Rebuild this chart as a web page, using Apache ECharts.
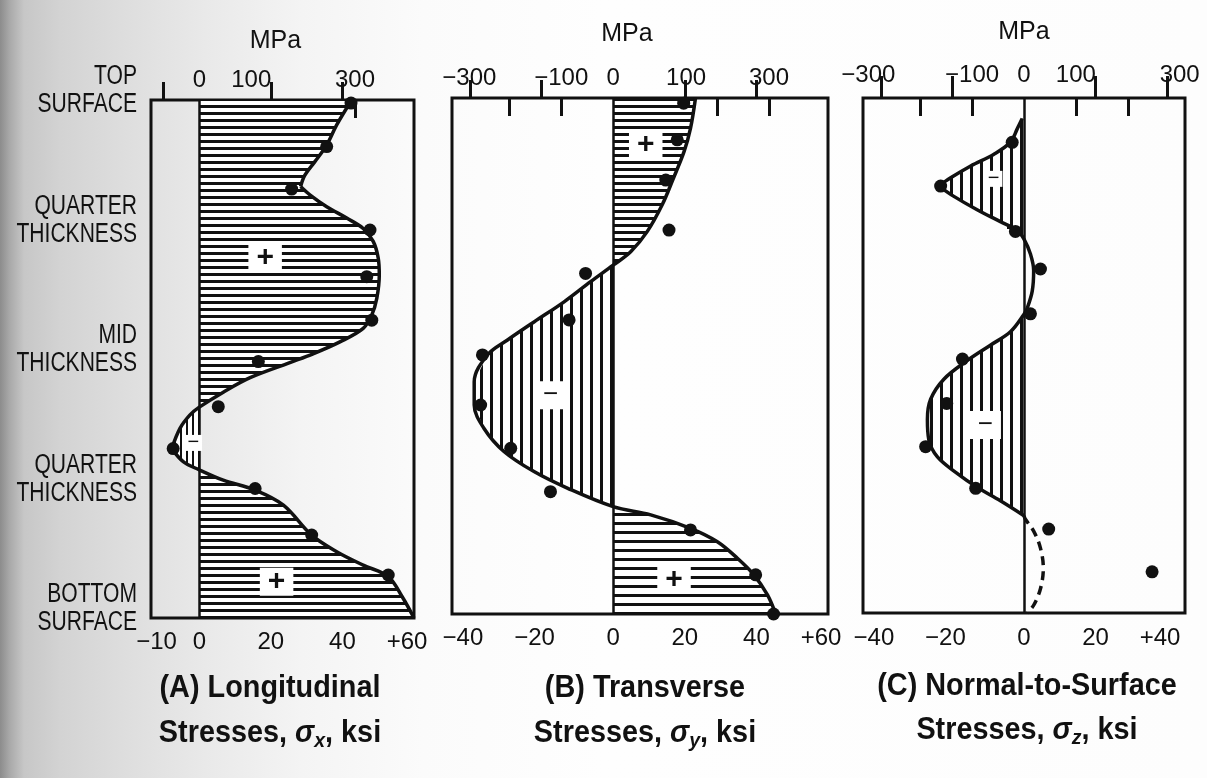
<!DOCTYPE html>
<html>
<head>
<meta charset="utf-8">
<script src="https://cdn.jsdelivr.net/npm/echarts@6/dist/echarts.min.js"></script>
<style>
  html, body { margin: 0; padding: 0; background: #fff; }
  #chart { width: 1207px; height: 778px; }
</style>
</head>
<body>
<div id="chart"></div>
<script>
// Residual stress through the plate thickness.
// depth: fraction of thickness measured from the top surface (0 = top, 1 = bottom)
// stress: ksi (top axes show the same scale in MPa)

// (A) longitudinal stress profile
const depthA = [0, 0.048, 0.087, 0.119, 0.145, 0.167, 0.183, 0.206, 0.228, 0.248, 0.273, 0.305, 0.338, 0.383, 0.415, 0.441, 0.467, 0.490, 0.507, 0.536, 0.564, 0.593, 0.608, 0.634, 0.673, 0.698, 0.714, 0.734, 0.753, 0.782, 0.840, 0.872, 0.898, 0.920, 0.959, 1.0];
const ksiA   = [42.6, 38.4, 35.6, 32.3, 29.5, 28.3, 30.9, 35.6, 41.2, 45.8, 48.6, 50.0, 50.3, 49.6, 48.2, 45.8, 39.3, 31.8, 25.3, 14.2, 6.7, 0, -2.6, -5.4, -7.7, -4.5, 0, 6.7, 15.6, 23.5, 31.4, 38.4, 45.8, 52.8, 56.7, 60];
const cornersA = [5, 24];
const dotDepthA = [0.006, 0.090, 0.172, 0.251, 0.341, 0.425, 0.505, 0.592, 0.673, 0.750, 0.840, 0.917];
const dotKsiA   = [42.4, 35.6, 25.8, 47.7, 46.8, 48.2, 16.5, 5.3, -7.3, 15.6, 31.4, 52.8];

// (B) transverse stress profile
const depthB = [0, 0.059, 0.104, 0.156, 0.207, 0.259, 0.298, 0.324, 0.356, 0.395, 0.434, 0.469, 0.498, 0.550, 0.595, 0.640, 0.685, 0.724, 0.756, 0.792, 0.808, 0.834, 0.860, 0.892, 0.924, 0.963, 1.0];
const ksiB   = [23.0, 21.6, 19.8, 16.8, 13.7, 9.5, 4.9, 0, -6.3, -13.7, -22.1, -29.5, -35.1, -38.8, -38.8, -36.1, -30.5, -22.1, -12.8, 0, 10.5, 21.6, 29.1, 34.7, 39.3, 43.1, 45.4];
const cornersB = [];
const dotDepthB = [0.010, 0.081, 0.159, 0.256, 0.340, 0.430, 0.498, 0.595, 0.679, 0.763, 0.837, 0.924, 1.0];
const dotKsiB   = [19.7, 17.9, 14.7, 15.6, -7.7, -12.3, -36.5, -37.0, -28.6, -17.5, 21.6, 39.8, 44.8];

// (C) normal-to-surface stress profile (solid part, then the dashed estimate near the bottom)
const depthC = [0.040, 0.060, 0.086, 0.109, 0.132, 0.155, 0.171, 0.191, 0.217, 0.240, 0.257, 0.274, 0.303, 0.335, 0.375, 0.408, 0.420, 0.454, 0.480, 0.510, 0.546, 0.585, 0.624, 0.664, 0.697, 0.729, 0.756, 0.782, 0.811];
const ksiC   = [-0.5, -1.9, -3.8, -8.4, -14.9, -20.5, -23.8, -19.6, -13.1, -6.6, -1.9, 0, 1.8, 2.7, 2.3, 0.9, 0, -3.8, -9.4, -15.9, -22.4, -26.1, -27.0, -26.6, -24.2, -18.7, -13.1, -6.6, 0];
const cornersC = [6];
const dashDepthC = [0.811, 0.818, 0.841, 0.874, 0.913, 0.953, 0.985, 1.0];
const dashKsiC   = [0, 0.4, 2.7, 4.6, 5.4, 4.6, 2.7, 0.9];
const dotDepthC = [0.086, 0.171, 0.259, 0.332, 0.419, 0.507, 0.593, 0.677, 0.758, 0.837, 0.920];
const dotKsiC   = [-3.3, -23.3, -2.4, 4.6, 1.8, -17.2, -21.6, -27.5, -13.5, 6.9, 35.8];

// axis ranges (ksi) and tick marks
const ksiRange = [[-13.5, 60], [-45, 60], [-45, 45]];
const ksiTicks = [[-10, 20, 40], [-40, -20, 20, 40], [-40, -20, 20, 40]];
const ksiLabelValues = [[-10, 0, 20, 40, 60], [-40, -20, 0, 20, 40, 60], [-40, -20, 0, 20, 40]];
const ksiLabelText = [['−10', '0', '20', '40', '+60'], ['−40', '−20', '0', '20', '40', '+60'], ['−40', '−20', '0', '20', '+40']];
const mpaTicks = [[100, 200, 300], [-200, -100, 100, 200, 300], [-200, -100, 100, 200]];
const mpaLabelValues = [[0, 100, 300], [-300, -100, 0, 100, 300], [-300, -100, 0, 100, 300]];
const mpaLabelText = [['0', '100', '300'], ['−300', '−100', '0', '100', '300'], ['−300', '−100', '0', '100', '300']];
const thicknessValues = [0, 0.25, 0.5, 0.75, 1];
const thicknessLabels = ['TOP\nSURFACE', 'QUARTER\nTHICKNESS', 'MID\nTHICKNESS', 'QUARTER\nTHICKNESS', 'BOTTOM\nSURFACE'];
const panelTitles = [
  ['(A) Longitudinal', ['Stresses, ', 'σ', 'x', ', ksi']],
  ['(B) Transverse', ['Stresses, ', 'σ', 'y', ', ksi']],
  ['(C) Normal-to-Surface', ['Stresses, ', 'σ', 'z', ', ksi']]
];
// sign marks written inside the shaded lobes
const signText  = [['+', '+', '−'], ['+', '−', '+'], ['−', '−']];
const signKsi   = [[18.4, 21.6, -1.7], [9.1, -17.5, 17.0], [-8.5, -10.8]];
const signDepth = [[0.305, 0.930, 0.662], [0.091, 0.576, 0.934], [0.157, 0.635]];

const MPA_PER_KSI = 6.894757;
const INK = '#111';
const NUM_FONT = '"Liberation Sans", Arial, Helvetica, sans-serif';

// layout of the three panels (pixels)
const grids = [
  { left: 151, top: 100, width: 263, height: 518 },
  { left: 452, top: 98, width: 376, height: 516 },
  { left: 863, top: 98, width: 322, height: 515 }
];
const titleX = [270, 645, 1027];
const titleY = [[688, 733], [688, 733], [686, 730]];
const mpaNameGap = [46, 51, 53];
const mpaNamePad = [[0, 14, 0, 0], [0, 26, 0, 0], [0, 0, 0, 0]];
const mpaLabelMargin = [8, 8, 11];
const ksiLabelMargin = [12, 12, 13];
// extra left padding nudging a few MPa labels sideways
const mpaLabelNudge = [{}, { '−300': 24, '100': 42 }, {}];

// hatch patterns: horizontal rules for tension (+), vertical rules for compression (−)
function hatch(vertical, period, thick) {
  const c = document.createElement('canvas');
  c.width = period; c.height = period;
  const g = c.getContext('2d');
  g.fillStyle = '#fff';
  g.fillRect(0, 0, period, period);
  g.fillStyle = INK;
  if (vertical) g.fillRect(0, 0, thick, period);
  else g.fillRect(0, 0, period, thick);
  return { image: c, repeat: 'repeat' };
}
const hatchH7 = hatch(false, 7, 3);
const hatchH9 = hatch(false, 9, 3);
const hatchV6 = hatch(true, 6, 2);
const hatchV10 = hatch(true, 10, 3);

// pattern per lobe, in the order the lobes appear from the top
const lobePatterns = [
  [hatchH7, hatchV6, hatchH7],
  [hatchH7, hatchV10, hatchH9],
  [hatchV10, null, hatchV10]
];

const zip = (d, k) => d.map((v, i) => [k[i], v]);

// split a profile into lobes at its zero crossings
function lobes(depth, ksi) {
  const out = [];
  let cur = [];
  for (let i = 0; i < depth.length; i++) {
    const pt = [ksi[i], depth[i]];
    cur.push(pt);
    if (ksi[i] === 0 && cur.length > 1) { out.push(cur); cur = [pt]; }
  }
  if (cur.length > 1) out.push(cur);
  return out;
}

// split a profile into smooth pieces at its sharp corners
function pieces(depth, ksi, corners) {
  const cuts = [0].concat(corners, [depth.length - 1]);
  const out = [];
  for (let i = 0; i < cuts.length - 1; i++) {
    out.push(zip(depth.slice(cuts[i], cuts[i + 1] + 1), ksi.slice(cuts[i], cuts[i + 1] + 1)));
  }
  return out;
}

const profiles = [
  { depth: depthA, ksi: ksiA, corners: cornersA, dotD: dotDepthA, dotK: dotKsiA },
  { depth: depthB, ksi: ksiB, corners: cornersB, dotD: dotDepthB, dotK: dotKsiB },
  { depth: depthC, ksi: ksiC, corners: cornersC, dotD: dotDepthC, dotK: dotKsiC }
];

const xAxes = [], yAxes = [], series = [];

profiles.forEach((pr, p) => {
  const [kmin, kmax] = ksiRange[p];
  // bottom axis: ksi
  xAxes.push({
    gridIndex: p, type: 'value', position: 'bottom', min: kmin, max: kmax,
    axisLine: { show: false }, splitLine: { show: false },
    axisTick: { show: true, inside: true, length: p === 2 ? 22 : 18, customValues: ksiTicks[p], lineStyle: { color: INK, width: 3 } },
    axisLabel: {
      show: true, customValues: ksiLabelValues[p], margin: ksiLabelMargin[p],
      fontSize: 24, fontFamily: NUM_FONT, color: INK,
      formatter: (v) => {
        const t = ksiLabelText[p][ksiLabelValues[p].indexOf(v)];
        return (t[0] === '−' || t[0] === '+') ? '{h|' + t + '}' : t;
      },
      rich: { h: { fontSize: 24, fontFamily: NUM_FONT, color: INK, padding: [0, 14, 0, 0] } }
    }
  });
  // top axis: MPa
  xAxes.push({
    gridIndex: p, type: 'value', position: 'top', min: kmin * MPA_PER_KSI, max: kmax * MPA_PER_KSI,
    name: 'MPa', nameLocation: 'middle', nameGap: mpaNameGap[p],
    nameTextStyle: { fontSize: 25, fontFamily: NUM_FONT, color: INK, padding: mpaNamePad[p] },
    axisLine: { show: false }, splitLine: { show: false },
    axisTick: { show: true, inside: true, length: 18, customValues: mpaTicks[p], lineStyle: { color: INK, width: 3 } },
    axisLabel: {
      show: true, customValues: mpaLabelValues[p], margin: mpaLabelMargin[p],
      fontSize: 24, fontFamily: NUM_FONT, color: INK,
      formatter: (v) => {
        const t = mpaLabelText[p][mpaLabelValues[p].indexOf(v)];
        const n = mpaLabelNudge[p][t];
        return n ? '{n' + n + '|' + t + '}' : t;
      },
      rich: {
        n24: { fontSize: 24, fontFamily: NUM_FONT, color: INK, padding: [0, 0, 0, 24] },
        n42: { fontSize: 24, fontFamily: NUM_FONT, color: INK, padding: [0, 0, 0, 42] }
      }
    }
  });
  // depth axis (thickness captions for panel A are added as graphics below)
  yAxes.push({
    gridIndex: p, type: 'value', min: 0, max: 1, inverse: true,
    position: p === 2 ? 'right' : 'left',
    axisLine: { show: false }, splitLine: { show: false },
    axisTick: { show: p !== 1, inside: true, length: p === 0 ? 14 : 17, customValues: [0.25, 0.5, 0.75], lineStyle: { color: INK, width: 3 } },
    axisLabel: { show: false }
  });

  // hatched lobes between the zero line and the profile
  const lb = lobes(pr.depth, pr.ksi);
  series.push({
    type: 'custom', xAxisIndex: 2 * p, yAxisIndex: p, z: 1, silent: true, animation: false,
    data: lb.map((l) => [0, l[0][1]]),
    renderItem: (params, api) => {
      const l = lb[params.dataIndex];
      const pat = lobePatterns[p][params.dataIndex];
      if (!pat) return null;
      const pts = [[0, l[0][1]]].concat(l, [[0, l[l.length - 1][1]]]).map((q) => api.coord(q));
      return { type: 'polygon', shape: { points: pts }, style: { fill: pat, stroke: null } };
    }
  });

  // profile curve
  pieces(pr.depth, pr.ksi, pr.corners).forEach((pc, i) => {
    const s = {
      type: 'line', xAxisIndex: 2 * p, yAxisIndex: p, data: pc, z: 3,
      showSymbol: false, smooth: 0.35, animation: false, silent: true,
      lineStyle: { color: INK, width: 3.5 }
    };
    if (i === 0) {
      s.markLine = {
        silent: true, symbol: ['none', 'none'], animation: false,
        label: { show: false },
        lineStyle: { color: INK, width: 2.5, type: 'solid' },
        data: [{ xAxis: 0 }]
      };
    }
    series.push(s);
  });

  // measured points
  series.push({
    type: 'scatter', xAxisIndex: 2 * p, yAxisIndex: p, z: 5, clip: false,
    symbolSize: 13, itemStyle: { color: INK, opacity: 1 }, animation: false, silent: true,
    data: zip(pr.dotD, pr.dotK)
  });

  // sign marks with a white knock-out
  series.push({
    type: 'scatter', xAxisIndex: 2 * p, yAxisIndex: p, z: 6, symbolSize: 1,
    itemStyle: { color: 'rgba(0,0,0,0)', opacity: 1 }, animation: false, silent: true,
    data: signText[p].map((t, i) => {
      const big = t === '+' || !((p === 0 && i === 2) || (p === 2 && i === 0));
      return {
        value: [signKsi[p][i], signDepth[p][i]],
        label: {
          show: true, position: 'inside', formatter: t,
          fontSize: t === '+' ? 30 : (big ? 26 : 20), fontWeight: t === '+' ? 'bold' : 'normal',
          fontFamily: NUM_FONT, color: INK, lineHeight: big ? 24 : 14,
          backgroundColor: '#fff', padding: big ? [2, 8] : [1, 3]
        }
      };
    })
  });
});

// dashed estimate at the bottom of panel C
series.push({
  type: 'line', xAxisIndex: 4, yAxisIndex: 2, z: 3, data: zip(dashDepthC, dashKsiC),
  showSymbol: false, smooth: 0.35, animation: false, silent: true,
  lineStyle: { color: INK, width: 3.5, type: [9, 6] }
});

const chart = echarts.init(document.getElementById('chart'), null, { renderer: 'canvas' });
chart.setOption({
  animation: false,
  backgroundColor: '#fff',
  grid: grids.map((g) => Object.assign({
    show: true, borderColor: INK, borderWidth: 3, backgroundColor: 'transparent',
    containLabel: false, outerBoundsMode: 'none'
  }, g)),
  xAxis: xAxes,
  yAxis: yAxes,
  series: series
});

// page shading, thickness captions and panel captions
const graphics = [{
  type: 'rect', z: -10, silent: true,
  shape: { x: 0, y: 0, width: 1207, height: 778 },
  style: {
    fill: new echarts.graphic.LinearGradient(0, 0, 1, 0, [
      { offset: 0, color: '#8c8c8c' },
      { offset: 0.008, color: '#a9a9a9' },
      { offset: 0.02, color: '#c7c7c7' },
      { offset: 0.05, color: '#d3d3d3' },
      { offset: 0.1, color: '#dddddd' },
      { offset: 0.17, color: '#e9e9e9' },
      { offset: 0.25, color: '#f4f4f4' },
      { offset: 0.35, color: '#fbfbfb' },
      { offset: 0.5, color: '#fefefe' },
      { offset: 1, color: '#fdfdfd' }
    ])
  }
}];

// captions along the thickness axis of panel A, condensed horizontally
thicknessValues.forEach((v, i) => {
  const yTick = chart.convertToPixel({ yAxisIndex: 0 }, v);
  graphics.push({
    type: 'text', z: 10, silent: true, x: 137, y: yTick + 19, scaleX: 0.78,
    style: {
      text: thicknessLabels[i], align: 'right', verticalAlign: 'bottom',
      fontSize: 27, lineHeight: 28, fontFamily: NUM_FONT, fill: INK
    }
  });
});

panelTitles.forEach((t, p) => {
  graphics.push({
    type: 'text', z: 10, silent: true, x: titleX[p], y: titleY[p][0], scaleX: 0.93,
    style: {
      text: t[0], align: 'center', verticalAlign: 'middle', fill: INK,
      fontSize: 31, fontWeight: 'bold', fontFamily: NUM_FONT
    }
  });
  const l = t[1];
  graphics.push({
    type: 'text', z: 10, silent: true, x: titleX[p], y: titleY[p][1], scaleX: 0.93,
    style: {
      text: '{t|' + l[0] + '}{g|' + l[1] + '}{s|' + l[2] + '}{t|' + l[3] + '}',
      align: 'center', verticalAlign: 'middle',
      rich: {
        t: { fontSize: 31, fontWeight: 'bold', fontFamily: NUM_FONT, fill: INK, color: INK },
        g: { fontSize: 31, fontWeight: 'bold', fontStyle: 'italic', fontFamily: NUM_FONT, fill: INK, color: INK },
        s: { fontSize: 21, fontWeight: 'bold', fontStyle: 'italic', fontFamily: NUM_FONT, fill: INK, color: INK, padding: [16, 0, 0, 0] }
      }
    }
  });
});

chart.setOption({ graphic: graphics });
</script>
</body>
</html>
